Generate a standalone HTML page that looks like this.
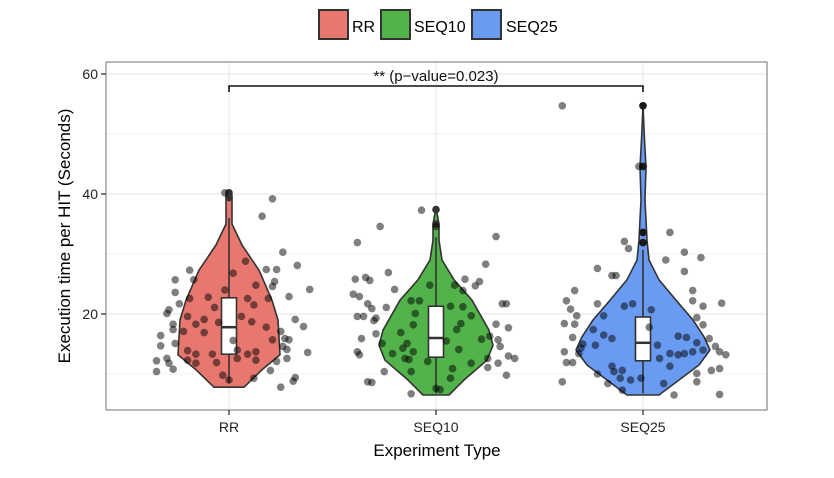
<!DOCTYPE html>
<html><head><meta charset="utf-8"><style>
html,body{margin:0;padding:0;background:#fff;}
svg{display:block;font-family:"Liberation Sans",sans-serif;}
</style></head><body>
<svg id="chart" width="834" height="478" viewBox="0 0 834 478">
<g>
 <rect x="319" y="10" width="29" height="29" fill="#E8786F" stroke="#333" stroke-width="2"/>
 <text x="352" y="32" font-size="16">RR</text>
 <rect x="381" y="10" width="29" height="29" fill="#52B34B" stroke="#333" stroke-width="2"/>
 <text x="414" y="32" font-size="16">SEQ10</text>
 <rect x="472" y="10" width="29" height="29" fill="#6A9BF2" stroke="#333" stroke-width="2"/>
 <text x="506" y="32" font-size="16">SEQ25</text>
</g>
<g id="grid"></g>
<g id="marks"></g>
<rect x="106" y="62" width="661" height="348" fill="none" stroke="#888" stroke-width="1.2"/>
<g id="axes"></g>
<text x="437" y="456" font-size="17" text-anchor="middle">Experiment Type</text>
<text transform="translate(70,236) rotate(-90)" font-size="17" text-anchor="middle">Execution time per HIT (Seconds)</text>
</svg>
<script>
const categories=["RR","SEQ10","SEQ25"];
const colors=["#E8786F","#52B34B","#6A9BF2"];
const yTicks=[20,40,60];
const yMinor=[10,30,50];
// violin profiles: values and half-width densities (relative)
const violinV0=[7.8,10.7,13.2,19,22.3,27.3,31.5,35,38,39.5,40.3];
const violinW0=[15,33,51,49,43,30,13,3,3,3,0];
const violinV1=[6.5,9,12.3,14.8,17.3,22.3,25.7,29,32.3,35,37.7];
const violinW1=[13,28,51,57,53,36,18,6,3,3,0];
const violinV2=[6.5,9,11.5,14,16.2,19,22.3,25.7,29,32.3,35.7,39,44.5,49,54.7];
const violinW2=[16,36,56,67,61,50,33,16,6,4,3,2,3,1.5,0];
const boxLow=[13.3,12.8,12.2],boxMed=[17.8,16,15.2],boxHigh=[22.7,21.3,19.5];
const whiskLow=[8.5,6.8,6.8],whiskHigh=[36,32.8,30.7];
const outliers0=[40.2,39.8,39.4],outliers1=[37.4,35],outliers2=[54.7,44.6,33.6,31.9];
const rrVals=[40.2,39.2,36.3,30.3,28.1,24.1,28.8,27.4,27.4,27.3,25.7,25.7,26.8,24.8,25.4,24.6,23.6,22.6,22.8,24.0,22.6,21.5,22.6,22.9,21.7,20.7,20.1,21.1,19.6,19.6,19.1,18.3,18.3,18.7,19.1,17.9,17.4,17.1,18.6,17.8,17.1,16.4,16.9,15.9,15.7,15.6,15.1,14.7,13.9,13.3,13.3,14.0,13.3,13.7,14.1,13.6,12.6,12.2,12.3,11.9,12.6,12.3,12.1,12.6,11.8,10.8,10.4,11.8,9.8,9.0,9.3,10.6,9.4,8.8,7.8,15.7,14.6];
const rrJit=[-0.02,0.21,0.16,0.26,0.33,0.39,0.08,0.18,0.23,-0.19,-0.26,-0.17,0.02,0.13,0.22,0.21,-0.26,-0.19,-0.10,-0.02,0.09,0.12,0.19,0.29,-0.24,-0.29,-0.30,-0.07,0.06,-0.20,-0.12,-0.16,-0.27,0.11,0.32,0.36,-0.27,-0.22,-0.05,0.18,0.25,-0.33,-0.12,0.27,0.21,0.02,-0.26,-0.33,-0.20,-0.16,-0.08,0.04,0.09,0.13,0.28,0.38,-0.30,-0.35,-0.20,-0.06,0.04,0.13,0.23,0.28,-0.29,-0.27,-0.35,-0.16,-0.03,0.00,0.12,0.20,0.32,0.31,0.25,0.29,0.26];
const s10Vals=[37.3,34.6,31.9,25.8,26.1,25.6,26.9,23.3,22.9,24.1,21.7,20.9,21.1,19.6,19.6,19.3,18.9,22.2,22.2,20.1,18.2,16.7,16.9,15.9,15.1,15.1,13.7,13.2,14.3,13.4,12.6,12.4,13.7,10.4,10.4,12.1,8.7,8.6,6.7,24.8,7.6,34.6,32.9,28.3,25.8,25.4,24.7,24.8,23.9,21.7,21.7,21.3,21.2,19.7,18.4,18.3,17.7,17.4,16.3,15.8,15.5,15.7,14.6,14.1,12.6,13.0,12.6,11.8,11.1,10.9,9.8,9.3,7.4,11.8];
const s10Jit=[-0.07,-0.27,-0.38,-0.39,-0.34,-0.32,-0.23,-0.40,-0.37,-0.20,-0.33,-0.31,-0.24,-0.38,-0.35,-0.29,-0.30,-0.12,-0.08,-0.10,-0.11,-0.29,-0.17,-0.36,-0.26,-0.14,-0.38,-0.37,-0.16,-0.21,-0.15,-0.13,-0.11,-0.25,-0.12,-0.04,-0.33,-0.31,-0.12,-0.03,0,0,0.29,0.24,0.14,0.21,0.19,0.09,0.13,0.32,0.34,0.07,0.13,0.17,0.12,0.29,0.35,0.10,0.26,0.22,0.05,0.30,0.31,0.11,0.25,0.35,0.38,0.30,0.25,0.08,0.34,0.07,0.02,0.17];
const s25Vals=[54.7,54.7,44.6,44.6,33.6,33.6,31.9,32.1,30.9,30.3,29.4,29.0,27.6,26.4,26.4,27.1,23.9,23.9,22.2,21.7,21.3,21.7,22.2,21.3,21.8,20.8,19.7,19.7,20.7,19.4,18.4,18.3,17.4,18.2,17.8,16.1,16.5,15.9,16.3,16.1,15.2,15.9,15.0,14.8,14.8,13.4,13.2,13.4,13.7,14.0,14.6,13.7,13.2,14.3,13.4,13.7,12.6,11.9,11.9,11.3,10.6,10.4,10.0,11.3,10.6,10.9,10.1,9.3,9.0,9.3,8.7,8.7,8.4,8.4,7.3,6.5,6.6];
const s25Jit=[-0.39,0,-0.02,0,0.13,0,0,-0.09,-0.07,0.20,0.28,0.11,-0.22,-0.15,-0.13,0.20,-0.33,0.24,-0.37,-0.22,-0.09,-0.05,0.24,0.29,0.38,-0.35,-0.32,-0.19,0.04,0.26,-0.38,-0.33,-0.24,0.29,0.03,-0.34,-0.19,-0.15,0.17,0.21,0.26,0.32,-0.29,-0.23,0.07,0.13,0.17,0.20,0.24,0.29,0.35,0.37,0.40,-0.30,-0.31,-0.38,0.08,-0.37,-0.34,-0.15,-0.10,-0.14,-0.22,0.13,0.33,0.37,0.26,-0.11,-0.06,-0.01,0.26,-0.39,-0.17,0.10,-0.10,0.15,0.37];

const NS="http://www.w3.org/2000/svg";
const xPos=i=>229+i*207;
const y=v=>434-6*v;
const jx=(i,j)=>xPos(i)+j*207;
function mk(tag,attrs,parent){const e=document.createElementNS(NS,tag);for(const k in attrs)e.setAttribute(k,attrs[k]);parent.appendChild(e);return e;}
const grid=document.getElementById('grid'),marks=document.getElementById('marks'),axes=document.getElementById('axes');
yMinor.forEach(t=>{const l=mk('line',{x1:106,x2:767,y1:y(t),y2:y(t),stroke:'#f2f2f2','stroke-width':1},grid);

});
yTicks.forEach(t=>{const l=mk('line',{x1:106,x2:767,y1:y(t),y2:y(t),stroke:'#e6e6e6','stroke-width':1},grid);


const tk=mk('line',{x1:101,x2:106,y1:y(t),y2:y(t),stroke:'#333','stroke-width':1.3},axes);


const tx=mk('text',{x:98,y:y(t)+5,'font-size':14,'text-anchor':'end',fill:'#222'},axes);tx.textContent=t;

});
categories.forEach((c,i)=>{const l=mk('line',{x1:xPos(i),x2:xPos(i),y1:62,y2:410,stroke:'#e6e6e6','stroke-width':1},grid);


const tk=mk('line',{x1:xPos(i),x2:xPos(i),y1:410,y2:415,stroke:'#333','stroke-width':1.3},axes);


const tx=mk('text',{x:xPos(i),y:432,'font-size':14,'text-anchor':'middle',fill:'#222'},axes);tx.textContent=c;

});
const profV=[violinV0,violinV1,violinV2],profW=[violinW0,violinW1,violinW2];
const pts=[[rrVals,rrJit],[s10Vals,s10Jit],[s25Vals,s25Jit]];
const outs=[outliers0,outliers1,outliers2];
categories.forEach((c,i)=>{
 const V=profV[i],W=profW[i];let d='';
 V.forEach((v,k)=>{d+=(k?'L':'M')+(xPos(i)+W[k])+','+y(v);});
 for(let k=V.length-1;k>=0;k--)d+='L'+(xPos(i)-W[k])+','+y(V[k]);
 d+='Z';
 const p=mk('path',{d:d,fill:colors[i],stroke:'#333','stroke-width':1.6,'stroke-linejoin':'round'},marks);
 
 
 const w=mk('line',{x1:xPos(i),x2:xPos(i),y1:y(whiskLow[i]),y2:y(whiskHigh[i]),stroke:'#333','stroke-width':1.6},marks);
 
 
 const b=mk('rect',{x:xPos(i)-7.5,y:y(boxHigh[i]),width:15,height:y(boxLow[i])-y(boxHigh[i]),fill:'#fff',stroke:'#333','stroke-width':1.6},marks);
 
 
 const m=mk('line',{x1:xPos(i)-7.5,x2:xPos(i)+7.5,y1:y(boxMed[i]),y2:y(boxMed[i]),stroke:'#333','stroke-width':2.5},marks);
 
 
 outs[i].forEach(v=>{const o=mk('circle',{cx:xPos(i),cy:y(v),r:3.8,fill:'#333'},marks);
 
 });
 const [vals,jit]=pts[i];
 vals.forEach((v,k)=>{const o=mk('circle',{cx:jx(i,jit[k]),cy:y(v),r:3.8,fill:'#000','fill-opacity':0.5},marks);
 
 });
});
const br=mk('path',{d:'M'+xPos(0)+','+(y(58)+6)+'V'+y(58)+'H'+xPos(2)+'V'+(y(58)+6),fill:'none',stroke:'#111','stroke-width':1.6},marks);


const st=mk('text',{x:436,y:y(58)-5,'font-size':15,'text-anchor':'middle',fill:'#111'},marks);
st.textContent='** (p\u2212value=0.023)';


</script>
</body></html>
